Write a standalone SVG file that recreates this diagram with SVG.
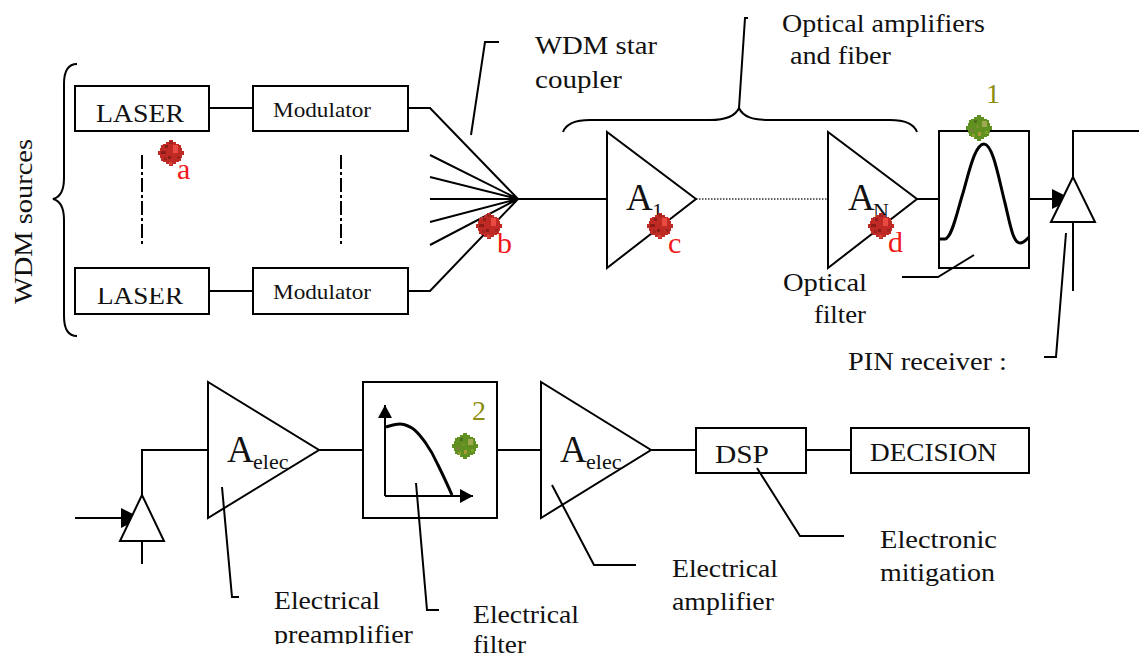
<svg xmlns="http://www.w3.org/2000/svg" width="1141" height="656" viewBox="0 0 1141 656">
<style>
.s{fill:none;stroke:#000;stroke-width:2}
.b{fill:#fff;stroke:#000;stroke-width:2}
.c{fill:none;stroke:#000;stroke-width:3}
text{font-family:"Liberation Serif","Times New Roman",serif;fill:#111;font-size:26px}
.m{font-size:21px}
.r{fill:#f01818;font-size:30px}
.o{fill:#8c8c10;font-size:28px}
.A{font-size:37px}
.u{font-size:22px}
</style>
<defs>
<polygon id="blob" points="2,-13 2,-11 5,-11 5,-9 8,-9 8,-8 10,-8 10,-5 11,-5 11,-2 13,-2 13,2 11,2 11,5 10,5 10,8 8,8 8,9 5,9 5,11 2,11 2,13 -2,13 -2,11 -5,11 -5,9 -8,9 -8,8 -10,8 -10,5 -11,5 -11,2 -13,2 -13,-2 -11,-2 -11,-5 -10,-5 -10,-8 -8,-8 -8,-9 -5,-9 -5,-11 -2,-11 -2,-13"/>
<g id="red"><use href="#blob" fill="#c02a24"/><rect x="2" y="-8" width="5" height="8" fill="#ea4a40"/><rect x="-10" y="-2" width="5" height="3" fill="#8c1c18"/><rect x="-6" y="-8" width="3" height="3" fill="#8c1c18"/><rect x="-3" y="3" width="3" height="3" fill="#8c1c18"/><rect x="6" y="3" width="3" height="3" fill="#a02420"/><rect x="-7" y="4" width="3" height="3" fill="#a02420"/><rect x="-2" y="-12" width="4" height="3" fill="#a02420"/><rect x="-2" y="9" width="3" height="3" fill="#d8443a"/></g>
<g id="green"><use href="#blob" fill="#5f9020"/><rect x="3" y="-7" width="5" height="6" fill="#a0a850"/><rect x="-9" y="1" width="4" height="3" fill="#78803c"/><rect x="-5" y="-8" width="3" height="3" fill="#4c7020"/><rect x="-1" y="4" width="3" height="4" fill="#a89838"/><rect x="6" y="3" width="3" height="3" fill="#78a028"/><rect x="-7" y="6" width="3" height="3" fill="#8c9c30"/><rect x="-3" y="-3" width="3" height="3" fill="#76902c"/></g>
<marker id="ah" markerWidth="21" markerHeight="21" refX="20" refY="10" orient="auto" markerUnits="userSpaceOnUse"><path d="M0 0L20 10L0 20z" fill="#000"/></marker>
<marker id="ax" markerWidth="14" markerHeight="14" refX="13" refY="7" orient="auto" markerUnits="userSpaceOnUse"><path d="M0 0L13 7L0 14z" fill="#000"/></marker>
<clipPath id="clipLaser"><rect x="75" y="288" width="134" height="26"/></clipPath>
<clipPath id="clipBottom"><rect x="0" y="0" width="1141" height="644"/></clipPath>
</defs>
<rect width="1141" height="656" fill="#fff"/>
<g id="connectors">
<path class="s" d="M209 108H253M209 291H253"/>
<path class="s" d="M408 108H430L518 199M408 291H430L518 199M430 155L518 199M430 177L518 199M430 199H518M430 222L518 199M430 245L518 199"/>
<path class="s" d="M518 199H607"/>
<path d="M696 199H828" fill="none" stroke="#333" stroke-width="1.5" stroke-dasharray="1.5 1.5"/>
<path class="s" d="M917 199H939"/>
<path class="s" d="M1029 199H1072" marker-end="url(#ah)"/>
<path class="s" d="M1073 177V131H1139M1073 222V291"/>
<path class="s" d="M142 155V245M341 155V245" stroke-dasharray="14 3 3 3"/>
<path class="s" d="M75 518H141" marker-end="url(#ah)"/>
<path class="s" d="M142 495V450H208M142 541V564"/>
<path class="s" d="M319 450H363M497 450H541M651 450H696M806 450H851"/>
</g>
<g id="laser1"><rect class="b" x="75" y="86" width="134" height="45"/><text x="96" y="122" textLength="88" lengthAdjust="spacingAndGlyphs">LASER</text></g>
<g id="laser2"><rect class="b" x="75" y="268" width="134" height="46"/><text x="97" y="304" textLength="86" lengthAdjust="spacingAndGlyphs" clip-path="url(#clipLaser)">LASER</text></g>
<g id="mod1"><rect class="b" x="253" y="86" width="155" height="45"/><text class="m" x="273" y="117" textLength="98" lengthAdjust="spacingAndGlyphs">Modulator</text></g>
<g id="mod2"><rect class="b" x="253" y="268" width="155" height="46"/><text class="m" x="273" y="299" textLength="98" lengthAdjust="spacingAndGlyphs">Modulator</text></g>
<g id="amp1"><path class="b" d="M607 132V268L696 199Z"/><text class="A" x="626" y="210">A</text><text class="u" x="652" y="218">1</text></g>
<g id="ampN"><path class="b" d="M828 132V268L917 199Z"/><text class="A" x="848" y="210">A</text><text class="u" x="873" y="218">N</text></g>
<g id="optfilter"><rect class="b" x="939" y="131" width="90" height="137"/>
<path class="c" d="M939 239H945C952 238 957 212 963 193C969 172 975 144 984 144C993 144 999 180 1005 203C1010 224 1013 243 1020 243C1024 243 1026 240 1029 237"/></g>
<g id="pin1"><path class="b" d="M1073 177L1051 222H1095Z"/></g>
<g id="pin2"><path class="b" d="M142 495L120 541H164Z"/></g>
<g id="amp-pre"><path class="b" d="M208 382V518L319 450Z"/><text class="A" x="227" y="462">A</text><text class="u" x="253" y="469">elec</text></g>
<g id="elecfilter"><rect class="b" x="363" y="382" width="134" height="136"/>
<path class="s" d="M385 496V405" marker-end="url(#ax)"/><path class="s" d="M385 496H473" marker-end="url(#ax)"/>
<path class="c" d="M386 427C392 425 396 424 400 424C405 424 408 426 412 428C418 432 421 437 425 442C430 449 434 456 438 465C443 475 448 486 452 495"/>
<text class="o" x="472" y="420">2</text></g>
<g id="amp-el"><path class="b" d="M541 382V518L651 450Z"/><text class="A" x="560" y="462">A</text><text class="u" x="586" y="469">elec</text></g>
<g id="dsp"><rect class="b" x="696" y="428" width="110" height="45"/><text x="715" y="463" textLength="54" lengthAdjust="spacingAndGlyphs">DSP</text></g>
<g id="decision"><rect class="b" x="851" y="428" width="178" height="45"/><text x="870" y="461" textLength="127" lengthAdjust="spacingAndGlyphs">DECISION</text></g>
<g id="leaders">
<path class="s" d="M471 135L485 42H499"/>
<path class="s" d="M748 18H745L739 108"/>
<path class="s" d="M563 132C566 124 575 120 590 120H710C725 120 735 117 739 108C743 117 753 120 770 120H890C905 120 914 124 917 132"/>
<path class="s" d="M77 64C68 64 64 72 64 84V178C64 190 61 197 53 199C61 201 64 208 64 220V316C64 328 68 336 77 336"/>
<path class="s" d="M974 255L938 277H902"/>
<path class="s" d="M1066 233L1056 357H1044"/>
<path class="s" d="M757 468L800 536H844"/>
<path class="s" d="M552 485L594 565H636"/>
<path class="s" d="M416 483L427 610H439"/>
<path class="s" d="M222 487L232 597H239"/>
</g>
<g id="labels">
<text transform="translate(32 304) rotate(-90)" textLength="165" lengthAdjust="spacingAndGlyphs">WDM sources</text>
<text x="535" y="54" textLength="122" lengthAdjust="spacingAndGlyphs">WDM star</text>
<text x="535" y="88" textLength="87" lengthAdjust="spacingAndGlyphs">coupler</text>
<text x="782" y="32" textLength="203" lengthAdjust="spacingAndGlyphs">Optical amplifiers</text>
<text x="790" y="64" textLength="101" lengthAdjust="spacingAndGlyphs">and fiber</text>
<text x="783" y="291" textLength="84" lengthAdjust="spacingAndGlyphs">Optical</text>
<text x="814" y="323" textLength="52" lengthAdjust="spacingAndGlyphs">filter</text>
<text x="848" y="370" textLength="159" lengthAdjust="spacingAndGlyphs">PIN receiver :</text>
<text x="274" y="609" textLength="106" lengthAdjust="spacingAndGlyphs">Electrical</text>
<text x="274" y="643" textLength="139" lengthAdjust="spacingAndGlyphs" clip-path="url(#clipBottom)">preamplifier</text>
<text x="473" y="623" textLength="106" lengthAdjust="spacingAndGlyphs">Electrical</text>
<text x="473" y="653" textLength="53" lengthAdjust="spacingAndGlyphs">filter</text>
<text x="672" y="577" textLength="106" lengthAdjust="spacingAndGlyphs">Electrical</text>
<text x="672" y="610" textLength="102" lengthAdjust="spacingAndGlyphs">amplifier</text>
<text x="880" y="548" textLength="117" lengthAdjust="spacingAndGlyphs">Electronic</text>
<text x="880" y="581" textLength="115" lengthAdjust="spacingAndGlyphs">mitigation</text>
</g>
<g id="markers">
<use href="#red" x="171" y="153"/><use href="#red" x="489" y="226"/><use href="#red" x="660" y="226"/><use href="#red" x="881" y="226"/>
<use href="#green" x="979" y="128"/><use href="#green" x="465" y="446"/>
<text class="r" x="177" y="179">a</text><text class="r" x="497" y="253">b</text><text class="r" x="668" y="253">c</text><text class="r" x="888" y="252">d</text>
<text class="o" x="986" y="103">1</text>
</g>
</svg>
